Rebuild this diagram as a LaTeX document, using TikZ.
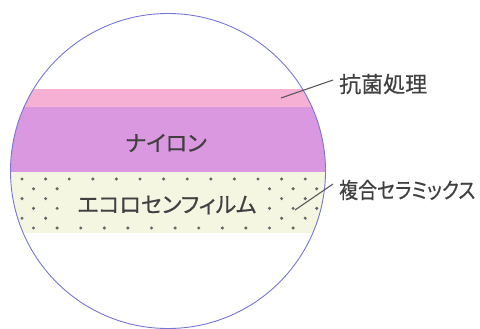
\documentclass[tikz,border=0pt]{standalone}
\usepackage{fontspec}
\usepackage{tikz}
\usepackage{xcolor}
\setmainfont{Noto Sans CJK JP}
\newfontfamily\jp[RawFeature=+palt, FakeBold=0.5]{Noto Sans CJK JP}
\definecolor{rimblue}{RGB}{118, 118, 214}
\definecolor{coatpink}{RGB}{246, 176, 212}
\definecolor{nylonpurple}{RGB}{218, 152, 224}
\definecolor{filmcream}{RGB}{244, 246, 226}
\definecolor{inkgray}{RGB}{64, 64, 64}
\definecolor{leadgray}{RGB}{90, 90, 90}

\tikzset{
    layertext/.style={text=inkgray, font=\jp\fontsize{22}{22}\selectfont, inner sep=0pt},
    sidelabel/.style={text=inkgray, font=\jp\fontsize{22}{22}\selectfont, inner sep=0pt, anchor=west},
    leader/.style={leadgray, line width=1.1pt},
    grain/.style={fill=inkgray!80}
}

\begin{document}
\begin{tikzpicture}[x=1pt, y=-1pt]
            \useasboundingbox (0,0) rectangle (480,329);

            % Layers, cut by the lens
            \begin{scope}
                \clip (168,171) circle (157.5);
                \fill[coatpink] (0,89) rectangle (480,107);
                \fill[nylonpurple] (0,107) rectangle (480,172);
                \fill[filmcream] (0,172) rectangle (480,233);
                % Ceramic grains
                \foreach \row in {0,...,5} {
                    \pgfmathsetmacro{\yy}{179 + 9.8*\row}
                    \pgfmathsetmacro{\xo}{mod(\row,2) == 0 ? 22 : 33.5}
                    \foreach \k in {0,...,12} {
                        \pgfmathsetmacro{\xx}{\xo + 23.6*\k}
                        \pgfmathparse{(\row > 0 && \row < 5 && \xx > 65 && \xx < 265) ? 0 : 1}
                        \ifnum\pgfmathresult=1
                            \fill[grain] (\xx,\yy) circle (1.7);
                        \fi
                    }
                }
            \end{scope}

            % Lens outline
            \draw[rimblue, line width=0.9pt] (168,171) circle (157.5);

            \node[layertext] (nylon) at (166,143) {ナイロン};
            \node[layertext] (film) at (167,205) {エコロセンフィルム};

            % Side labels
            \node[sidelabel] (coat) at (339,84) {抗菌処理};
            \node[sidelabel] (ceramic) at (339,190) {\scalebox{0.86}[1]{複合セラミックス}};
            \coordinate (coatpt) at (281,98);
            \coordinate (ceramicpt) at (295,210);
            \draw[leader] (coatpt) -- ([xshift=-6pt, yshift=4pt]coat.west);
            \draw[leader] (ceramicpt) -- ([xshift=-6pt, yshift=6pt]ceramic.west);
\end{tikzpicture}
\end{document}
